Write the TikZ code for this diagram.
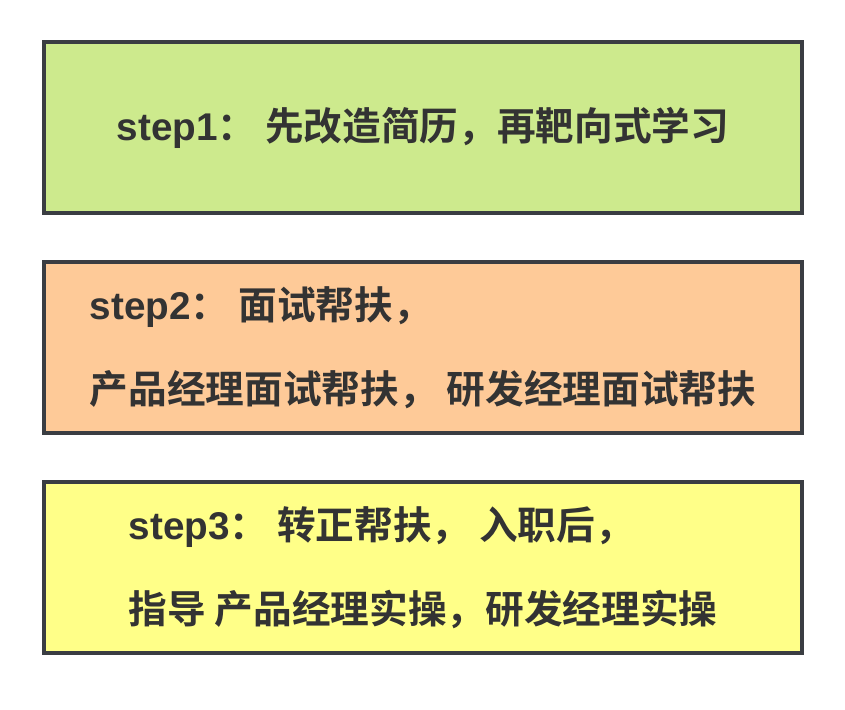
\documentclass[tikz,border=0pt]{standalone}
\usepackage{fontspec}
\setmainfont{Liberation Sans}
\newfontfamily\cjk{Noto Sans CJK SC}[BoldFont={Noto Sans CJK SC Bold}]
\newfontfamily\lat{Liberation Sans}
\usepackage{xcolor}
\usetikzlibrary{positioning}
\definecolor{plan-green}{HTML}{CDEA8D}
\definecolor{plan-orange}{HTML}{FECA98}
\definecolor{plan-yellow}{HTML}{FFFF88}
\definecolor{plan-border}{HTML}{3A3D42}
\definecolor{plan-text}{HTML}{333333}

\begin{document}
\begin{tikzpicture}[
    stage/.style={draw=plan-border, line width=3.4pt, minimum width=22.74cm, minimum height=5.13cm,
        align=left, text=plan-text, font=\cjk\bfseries\fontsize{33}{72}\selectfont}
]
    \useasboundingbox (0,0) rectangle (25.35,-21.27);
    \node (stage1) [stage, fill=plan-green] at (12.69,-3.825) {{\lat\bfseries step1}： 先改造简历，再靶向式学习};
    \node (stage2) [stage, fill=plan-orange, below=1.35cm of stage1] {{\lat\bfseries step2}： 面试帮扶，\\产品经理面试帮扶， 研发经理面试帮扶};
    \node (stage3) [stage, fill=plan-yellow, below=1.35cm of stage2] {{\lat\bfseries step3}： 转正帮扶， 入职后，\\指导 产品经理实操，研发经理实操};
\end{tikzpicture}
\end{document}
